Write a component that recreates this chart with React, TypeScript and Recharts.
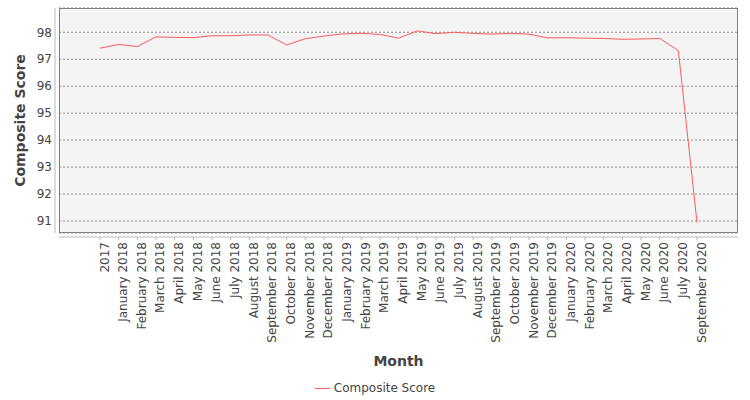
import { LineChart, Line, XAxis, YAxis, CartesianGrid, Legend } from 'recharts'

// month labels along the category axis
const months = [
    '2017',
    'January 2018', 'February 2018', 'March 2018', 'April 2018', 'May 2018', 'June 2018',
    'July 2018', 'August 2018', 'September 2018', 'October 2018', 'November 2018', 'December 2018',
    'January 2019', 'February 2019', 'March 2019', 'April 2019', 'May 2019', 'June 2019',
    'July 2019', 'August 2019', 'September 2019', 'October 2019', 'November 2019', 'December 2019',
    'January 2020', 'February 2020', 'March 2020', 'April 2020', 'May 2020', 'June 2020',
    'July 2020', 'September 2020',
]

// composite score per month
const scores = [
    97.41,
    97.55, 97.47, 97.83, 97.81, 97.8, 97.87,
    97.87, 97.9, 97.9, 97.53, 97.76, 97.86,
    97.94, 97.96, 97.92, 97.78, 98.05, 97.95,
    98.0, 97.96, 97.93, 97.96, 97.93, 97.79,
    97.8, 97.78, 97.77, 97.74, 97.75, 97.77,
    97.32, 90.94,
]

const yTicks = [91, 92, 93, 94, 95, 96, 97, 98]
const yDomain = [90.555, 98.9]

const data = months.map((month, i) => ({ month, score: scores[i] }))

const FONT = '"DejaVu Sans", sans-serif'
const LINE_COLOR = '#ff5a5a'

// frame lines along the plot edges, taken from the chart's own offset
const frameX = ({ offset }: any) => [offset.left + 0.5, offset.left + offset.width - 0.5]
const frameY = ({ offset }: any) => [offset.top + 0.5, offset.top + offset.height - 0.5]

const LegendContent = () => (
    <div
        style={{
            display: 'flex',
            justifyContent: 'center',
            alignItems: 'center',
            fontFamily: FONT,
            fontSize: 12,
            color: '#444',
        }}
    >
        <span style={{ display: 'inline-block', width: 15, height: 1, background: LINE_COLOR, marginRight: 4 }} />
        <span>Composite Score</span>
    </div>
)

const App = () => {
    return (
        <div style={{ position: 'absolute', left: 0, top: 0, width: 750, height: 400, background: '#fff' }}>
            {/* axes sit a few pixels off the plot frame */}
            <style>{`
                g.axis-y, .recharts-yAxis { transform: translate(-4px, 0px); }
                g.axis-x, .recharts-xAxis { transform: translate(0px, 4px); }
            `}</style>
            <LineChart width={750} height={400} data={data} margin={{ top: 8, right: 12, bottom: 0, left: 0 }}>
                <CartesianGrid
                    vertical={false}
                    horizontal
                    fill="#f4f4f4"
                    stroke="#8c8c8c"
                    strokeDasharray="2 2"
                />
                <CartesianGrid
                    vertical
                    horizontal
                    verticalCoordinatesGenerator={frameX}
                    horizontalCoordinatesGenerator={frameY}
                    stroke="#808080"
                    strokeWidth={1}
                />
                <XAxis
                    className="axis-x"
                    dataKey="month"
                    height={167}
                    interval={0}
                    padding={{ left: 41, right: 41 }}
                    angle={-90}
                    textAnchor="end"
                    tickSize={3}
                    tickMargin={6}
                    stroke="#b8b8b8"
                    tick={{ fill: '#444', fontSize: 12, fontFamily: FONT }}
                    label={{
                        value: 'Month',
                        position: 'insideBottom',
                        offset: 34,
                        style: { fill: '#444', fontSize: 14, fontWeight: 'bold', fontFamily: FONT },
                    }}
                />
                <YAxis
                    className="axis-y"
                    width={59}
                    domain={yDomain}
                    ticks={yTicks}
                    allowDataOverflow
                    tickLine={false}
                    tickSize={3}
                    tickMargin={4}
                    stroke="#b8b8b8"
                    tick={{ fill: '#444', fontSize: 12, fontFamily: FONT }}
                    label={{
                        value: 'Composite Score',
                        angle: -90,
                        position: 'insideLeft',
                        offset: 20,
                        style: { textAnchor: 'middle', fill: '#444', fontSize: 14, fontWeight: 'bold', fontFamily: FONT },
                    }}
                />
                <Line
                    type="linear"
                    dataKey="score"
                    stroke={LINE_COLOR}
                    strokeWidth={1}
                    dot={false}
                    isAnimationActive={false}
                />
                <Legend
                    layout="horizontal"
                    verticalAlign="middle"
                    align="center"
                    content={LegendContent}
                    wrapperStyle={{ top: 381, left: 0, width: 750, height: 16 }}
                />
            </LineChart>
        </div>
    )
}

export default App
